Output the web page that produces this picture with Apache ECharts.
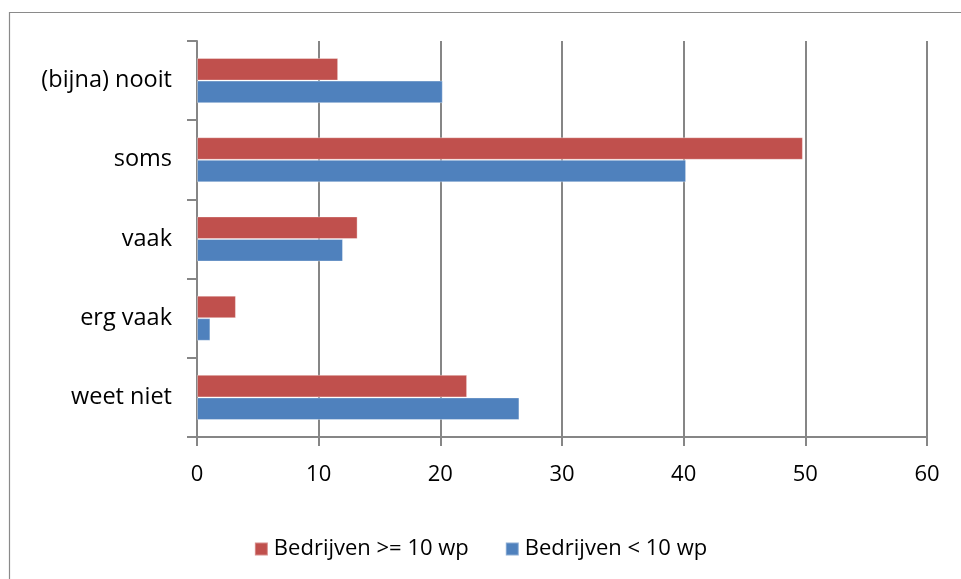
<!DOCTYPE html>
<html>
<head>
<meta charset="utf-8">
<script src="https://cdn.jsdelivr.net/npm/echarts@6/dist/echarts.min.js"></script>
<style>
  html, body { margin: 0; padding: 0; background: #fff; }
  #chart { width: 961px; height: 579px; }
</style>
</head>
<body>
<div id="chart"></div>
<script>
// Answer categories, top to bottom
const categories = ['(bijna) nooit', 'soms', 'vaak', 'erg vaak', 'weet niet'];
// Percentages per company size
const largeCompanies = [11.6, 49.8, 13.2, 3.2, 22.2];
const smallCompanies = [20.2, 40.2, 12.0, 1.1, 26.5];
const seriesNames = ['Bedrijven >= 10 wp', 'Bedrijven < 10 wp'];
const xTicks = { min: 0, max: 60, interval: 10 };

const FONT = '"Open Sans", Lato, sans-serif';
const AXIS_GREY = '#868686';

const chart = echarts.init(document.getElementById('chart'), null, { renderer: 'canvas' });
chart.setOption({
  animation: false,
  backgroundColor: '#fff',
  textStyle: { fontFamily: FONT },
  graphic: [{
    type: 'rect',
    shape: { x: 9.5, y: 12.5, width: 1000, height: 700 },
    style: { fill: 'none', stroke: '#8a8a8a', lineWidth: 1.2 },
    silent: true
  }],
  grid: { left: 197, right: 34, top: 41, bottom: 142, containLabel: false },
  legend: {
    bottom: 14,
    left: 'center',
    itemWidth: 13,
    itemHeight: 13,
    itemGap: 36,
    icon: 'rect',
    textStyle: { fontFamily: FONT, fontSize: 22, color: '#000', padding: [0, 0, 0, 1] },
    data: seriesNames
  },
  xAxis: {
    type: 'value',
    min: xTicks.min,
    max: xTicks.max,
    interval: xTicks.interval,
    axisLine: { show: true, lineStyle: { color: AXIS_GREY, width: 2 } },
    axisTick: { show: true, length: 9, lineStyle: { color: AXIS_GREY, width: 2 } },
    axisLabel: { color: '#000', fontSize: 22, fontFamily: FONT, margin: 27 },
    splitLine: { show: true, lineStyle: { color: AXIS_GREY, width: 2 } }
  },
  yAxis: {
    type: 'category',
    inverse: true,
    data: categories,
    axisLine: { show: true, lineStyle: { color: AXIS_GREY, width: 2 } },
    axisTick: { show: true, length: 10, lineStyle: { color: AXIS_GREY, width: 2 } },
    axisLabel: { color: '#000', fontSize: 23.5, fontFamily: FONT, margin: 25, padding: [3, 0, 0, 0] }
  },
  series: [
    {
      name: seriesNames[0],
      type: 'bar',
      data: largeCompanies,
      barGap: '0%',
      barCategoryGap: '43%',
      itemStyle: { color: '#C0504D', borderColor: 'rgba(255,255,255,0.35)', borderWidth: 1 }
    },
    {
      name: seriesNames[1],
      type: 'bar',
      data: smallCompanies,
      barGap: '0%',
      barCategoryGap: '43%',
      itemStyle: { color: '#4F81BD', borderColor: 'rgba(255,255,255,0.35)', borderWidth: 1 }
    }
  ]
});
</script>
</body>
</html>
